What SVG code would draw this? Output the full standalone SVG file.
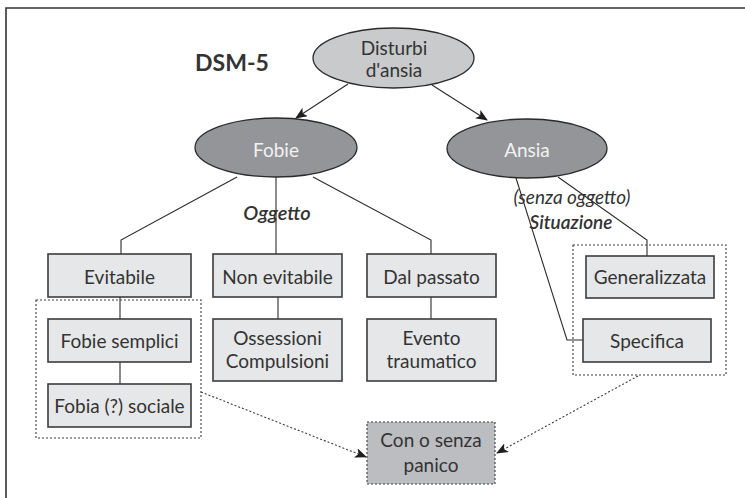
<svg xmlns="http://www.w3.org/2000/svg" width="745" height="498" viewBox="0 0 745 498">
  <style>
    text { font-family: Lato, "DejaVu Sans", sans-serif; font-size: 19px; fill: #333333; text-anchor: middle; }
    .box { fill: #e6e7e8; stroke: #3c3c3c; stroke-width: 1.6; }
    .link { fill: none; stroke: #2b2b2b; stroke-width: 1.1; }
    .dash { fill: none; stroke: #3c3c3c; stroke-width: 1.1; stroke-dasharray: 2 2; }
    .oval-light { fill: #c9cacc; stroke: #2b2b2b; stroke-width: 1.3; }
    .oval-dark { fill: #939598; stroke: #2b2b2b; stroke-width: 1.3; }
    .light-label { fill: #f2f2f2; }
    .it { font-style: italic; font-size: 19px; }
    .bi { font-style: italic; font-weight: 600; font-size: 19px; }
  </style>
  <defs>
    <marker id="arrow" viewBox="0 0 12 10" refX="11" refY="5" markerWidth="12" markerHeight="10" markerUnits="userSpaceOnUse" orient="auto">
      <path d="M0,0 L12,5 L0,10 L3,5 Z" fill="#1e1e1e"/>
    </marker>
  </defs>
  <rect width="745" height="498" fill="#ffffff"/>
  <!-- frame: top and left rule -->
  <path d="M6,498 V8 H745" fill="none" stroke="#333" stroke-width="1.6"/>

  <text x="232" y="71" style="font-weight:bold;font-size:23px">DSM-5</text>

  <!-- connectors -->
  <g id="connectors">
    <line class="link" x1="348" y1="84" x2="296" y2="118" marker-end="url(#arrow)"/>
    <line class="link" x1="432" y1="85" x2="487" y2="120" marker-end="url(#arrow)"/>
    <polyline class="link" points="237,177 121,240 121,254"/>
    <line class="link" x1="276" y1="177" x2="276" y2="254"/>
    <polyline class="link" points="313,177 431,240 431,254"/>
    <line class="link" x1="120" y1="297" x2="120" y2="319"/>
    <line class="link" x1="120" y1="362" x2="120" y2="384"/>
    <line class="link" x1="278" y1="297" x2="278" y2="319"/>
    <line class="link" x1="431" y1="297" x2="431" y2="319"/>
    <polyline class="link" points="516,178 567,340 583,340"/>
    <polyline class="link" points="558,177 647,240 647,256"/>
    <line class="dash" x1="201" y1="392" x2="366" y2="457" marker-end="url(#arrow)"/>
    <line class="dash" x1="638" y1="376" x2="497" y2="453" marker-end="url(#arrow)"/>
  </g>

  <!-- edge labels -->
  <text class="bi" x="277" y="220" style="font-size:20px">Oggetto</text>
  <text class="it" x="572" y="204">(senza oggetto)</text>
  <text class="bi" x="571" y="229">Situazione</text>

  <!-- grouping frames -->
  <rect class="dash" x="36" y="300" width="165" height="138"/>
  <rect class="dash" x="573" y="245" width="153" height="130"/>

  <g id="disturbi">
    <ellipse class="oval-light" cx="393.5" cy="58" rx="80.5" ry="30"/>
    <text x="394" y="55">Disturbi</text>
    <text x="394" y="77">d'ansia</text>
  </g>
  <g id="fobie">
    <ellipse class="oval-dark" cx="276" cy="147.5" rx="81" ry="29.5"/>
    <text class="light-label" x="276" y="157">Fobie</text>
  </g>
  <g id="ansia">
    <ellipse class="oval-dark" cx="527" cy="148.5" rx="80" ry="29.5"/>
    <text class="light-label" x="527" y="157">Ansia</text>
  </g>

  <g id="evitabile">
    <rect class="box" x="48" y="254" width="143" height="43"/>
    <text x="119.5" y="284">Evitabile</text>
  </g>
  <g id="non-evitabile">
    <rect class="box" x="213" y="254" width="129" height="43"/>
    <text x="277.5" y="284">Non evitabile</text>
  </g>
  <g id="dal-passato">
    <rect class="box" x="367" y="254" width="129" height="43"/>
    <text x="431.5" y="284">Dal passato</text>
  </g>
  <g id="fobie-semplici">
    <rect class="box" x="48" y="319" width="143" height="43"/>
    <text x="119.5" y="348">Fobie semplici</text>
  </g>
  <g id="fobia-sociale">
    <rect class="box" x="48" y="384" width="143" height="43"/>
    <text x="119.5" y="413">Fobia (?) sociale</text>
  </g>
  <g id="ossessioni">
    <rect class="box" x="213" y="319" width="129" height="62"/>
    <text x="277.5" y="345">Ossessioni</text>
    <text x="277.5" y="368">Compulsioni</text>
  </g>
  <g id="evento">
    <rect class="box" x="367" y="319" width="129" height="62"/>
    <text x="431.5" y="345">Evento</text>
    <text x="431.5" y="368">traumatico</text>
  </g>
  <g id="generalizzata">
    <rect class="box" x="586" y="256" width="128" height="42"/>
    <text x="650" y="284">Generalizzata</text>
  </g>
  <g id="specifica">
    <rect class="box" x="583" y="319" width="128" height="43"/>
    <text x="647" y="348">Specifica</text>
  </g>
  <g id="panico">
    <rect x="367" y="422" width="128" height="62" fill="#bcbdc0" stroke="#3c3c3c" stroke-width="1.1" stroke-dasharray="2 2"/>
    <text x="431" y="447">Con o senza</text>
    <text x="431" y="472">panico</text>
  </g>
</svg>
